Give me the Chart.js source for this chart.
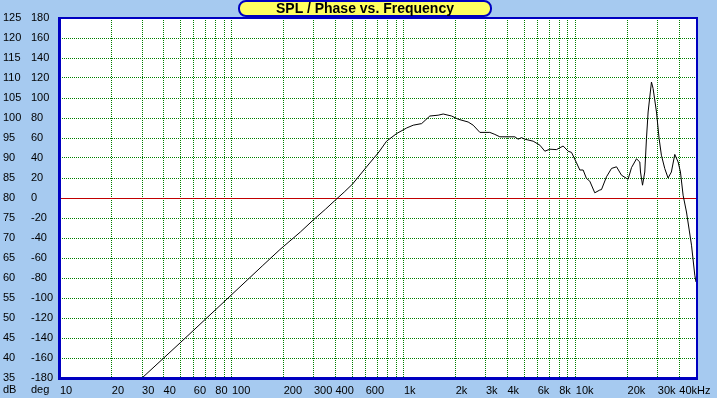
<!DOCTYPE html>
<html>
<head>
<meta charset="utf-8">
<script src="https://cdn.jsdelivr.net/npm/chart.js@4/dist/chart.umd.min.js"></script>
<style>
  html, body { margin:0; padding:0; background:#A6CAF0; }
  #wrap { position:relative; width:717px; height:398px; overflow:hidden; background:#A6CAF0; }
  canvas { position:absolute; left:0; top:0; }
  #title { position:absolute; left:238px; top:0px; width:254px; height:17px; box-sizing:border-box;
    border:2px solid #0000C0; border-radius:8px; background:#FFFF60; color:#000;
    font:bold 14px "Liberation Sans", Arial, sans-serif; line-height:13px; text-align:center; }
  .unit { position:absolute; top:383px; font:11px "Liberation Sans", Arial, sans-serif; line-height:12px; color:#000; }
</style>
</head>
<body>
<div id="wrap">
  <canvas id="c" width="717" height="398"></canvas>
  <div id="title">SPL / Phase vs. Frequency</div>
  <span class="unit" style="left:3px">dB</span>
  <span class="unit" style="left:31px">deg</span>
</div>
<script>
// ---- data ----
const freqHz = [30, 50, 100, 150, 190, 250, 297, 350, 393, 450, 503, 607, 716, 793, 907, 1037, 1133, 1268, 1416, 1582,
  1693, 1893, 2069, 2365, 2530, 2767, 3162, 3381, 3614, 4419, 4620, 4833, 5050, 5650, 6180, 6603, 7062, 7720, 8440, 9020,
  9440, 10090, 10550, 11030, 11530, 12060, 12890, 13790, 14100, 15080, 16130, 17250, 18440, 19720, 20150, 21080, 22540, 23560, 23780, 24430,
  25180, 25760, 26330, 27540, 28140, 29460, 30500, 31460, 32890, 34400, 35960, 37630, 39360, 40600, 42070, 44010, 47080, 49200, 50000];
const splDb = [35.0, 43.8, 55.9, 63.0, 67.1, 71.5, 74.5, 77.2, 79.2, 81.5, 83.5, 87.8, 91.5, 94.2, 96.1, 97.5, 98.2, 98.6, 100.5, 100.7,
  101.0, 100.5, 99.7, 99.0, 98.2, 96.4, 96.4, 95.9, 95.3, 95.3, 94.7, 95.1, 94.7, 94.2, 93.2, 91.7, 92.2, 92.1, 93.0, 91.7,
  91.4, 88.8, 87.0, 87.0, 84.9, 84.2, 81.3, 82.0, 82.1, 85.3, 87.4, 87.8, 85.7, 84.9, 84.7, 87.6, 89.8, 89.0, 86.5, 83.2,
  86.5, 94.9, 101.5, 109.0, 107.4, 101.5, 94.9, 90.7, 87.4, 85.0, 86.5, 90.9, 89.0, 86.5, 80.7, 76.5, 68.2, 60.7, 59.0];

// ---- axes ----
const xMin = 10, xMax = 50000;
const xGridValues = [10,20,30,40,50,60,70,80,90,100,200,300,400,500,600,700,800,900,
  1000,2000,3000,4000,5000,6000,7000,8000,9000,10000,20000,30000,40000,50000];
const xTickValues = [10,20,30,40,60,80,100,200,300,400,600,1000,2000,3000,4000,6000,8000,10000,20000,30000,40000];
const xTickLabels = ['10','20','30','40','60','80','100','200','300','400','600','1k','2k','3k','4k','6k','8k','10k','20k','30k','40kHz'];
const dbMin = 35, dbMax = 125, dbStep = 5;
const degMin = -180, degMax = 180, degStep = 20;
const zeroLineDb = 80;

const FONT = { family: '"Liberation Sans", Arial, sans-serif', size: 11 };

const framePlugin = {
  id: 'frame',
  beforeDraw(chart) {
    const { ctx, chartArea: a } = chart;
    ctx.save();
    ctx.fillStyle = '#A6CAF0';
    ctx.fillRect(0, 0, chart.width, chart.height);
    ctx.fillStyle = '#FFFFFF';
    ctx.fillRect(a.left, a.top, a.right - a.left, a.bottom - a.top);
    ctx.restore();
  },
  afterDraw(chart) {
    const { ctx, chartArea: a } = chart;
    ctx.save();
    ctx.fillStyle = '#0000C0';
    ctx.fillRect(a.left - 2, a.top - 1, 3, a.bottom - a.top + 3);      // left
    ctx.fillRect(a.left - 2, a.top - 1, a.right - a.left + 4, 2);      // top
    ctx.fillRect(a.right, a.top - 1, 2, a.bottom - a.top + 3);         // right
    ctx.fillRect(a.left - 2, a.bottom - 1, a.right - a.left + 4, 3);   // bottom
    ctx.restore();
  }
};

new Chart(document.getElementById('c'), {
  type: 'line',
  data: {
    datasets: [{
      data: freqHz.map((f, i) => ({ x: f, y: splDb[i] })),
      borderColor: '#000000',
      borderWidth: 1,
      pointRadius: 0,
      tension: 0,
      yAxisID: 'yDb'
    }]
  },
  options: {
    responsive: false,
    animation: false,
    devicePixelRatio: 1,
    layout: { padding: { left: 3, top: 18, right: 21, bottom: 0 } },
    plugins: { legend: { display: false }, tooltip: { enabled: false }, title: { display: false } },
    scales: {
      x: {
        type: 'logarithmic',
        position: 'bottom',
        min: xMin, max: xMax,
        afterBuildTicks(scale) { scale.ticks = xGridValues.map(v => ({ value: v })); },
        afterFit(scale) { scale.height = 20; },
        ticks: {
          autoSkip: false, maxRotation: 0, minRotation: 0, align: 'start', padding: 6,
          color: '#000', font: FONT,
          callback(value) { const i = xTickValues.indexOf(value); return i >= 0 ? xTickLabels[i] : ''; }
        },
        grid: { color: '#008000', lineWidth: 1, drawTicks: false },
        border: { display: false, dash: [1, 1] }
      },
      yDeg: {
        type: 'linear', position: 'left', weight: 0,
        min: degMin, max: degMax,
        afterFit(scale) { scale.width = 29; },
        ticks: { stepSize: degStep, autoSkip: false, crossAlign: 'far', color: '#000', font: FONT },
        grid: { display: false, drawTicks: false },
        border: { display: false }
      },
      yDb: {
        type: 'linear', position: 'left', weight: 1,
        min: dbMin, max: dbMax,
        afterFit(scale) { scale.width = 28; },
        ticks: { stepSize: dbStep, autoSkip: false, crossAlign: 'far', color: '#000', font: FONT },
        grid: {
          drawTicks: false, drawOnChartArea: true, lineWidth: 1,
          color: ctx => (ctx.tick && ctx.tick.value === zeroLineDb) ? '#C00000' : '#008000'
        },
        border: { display: false, dash: ctx => (ctx.tick && ctx.tick.value === zeroLineDb) ? [] : [1, 1] }
      }
    }
  },
  plugins: [framePlugin]
});
</script>
</body>
</html>
